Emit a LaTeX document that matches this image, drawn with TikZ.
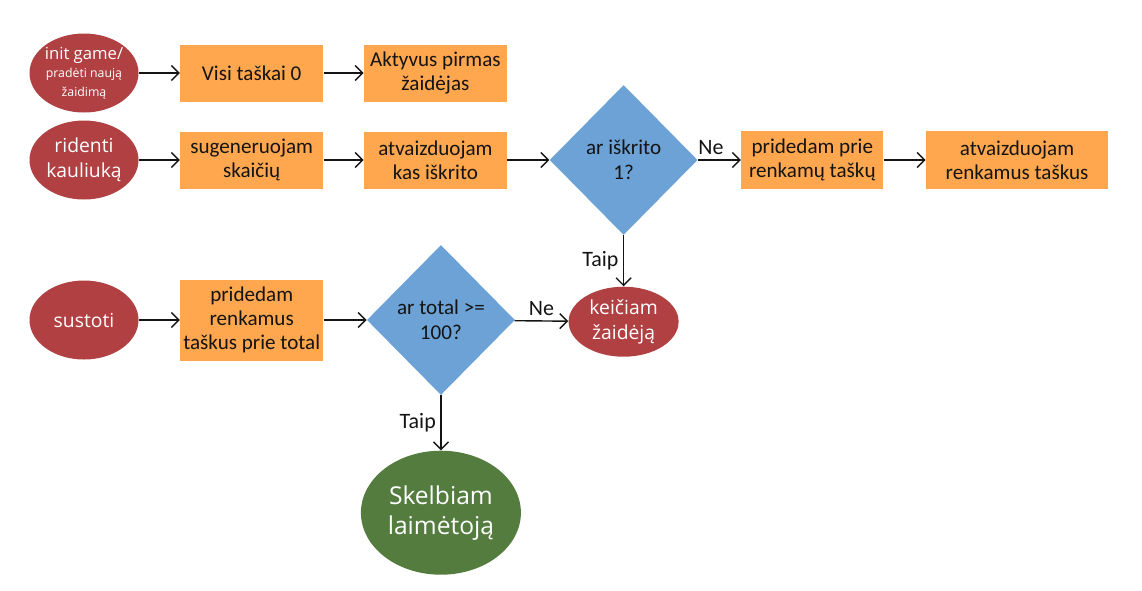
\documentclass[tikz,border=0pt]{standalone}
\usepackage{fontspec}
\setmainfont{Carlito}
\newfontfamily\ovalfont{Open Sans}
\usepackage{tikz}
\usetikzlibrary{arrows.meta,positioning,shapes.geometric}
\definecolor{ovalRed}{RGB}{176,64,66}
\definecolor{stepOrange}{RGB}{254,167,78}
\definecolor{askBlue}{RGB}{108,162,213}
\definecolor{winGreen}{RGB}{83,124,62}
\definecolor{mutedInk}{RGB}{20,20,20}
\tikzset{
  oval/.style={ellipse, fill=ovalRed, text=white, align=center, minimum width=2.18cm, minimum height=1.58cm, inner sep=0pt, font=\ovalfont\fontsize{11}{14.2}\selectfont},
  winoval/.style={oval, fill=winGreen, minimum width=3.2cm, minimum height=2.48cm, font=\ovalfont\fontsize{14}{17}\selectfont},
  stepbox/.style={rectangle, fill=stepOrange, text=mutedInk, align=center, minimum width=2.86cm, minimum height=1.14cm, inner sep=0pt, font=\fontsize{12}{13.8}\selectfont},
  askbox/.style={diamond, fill=askBlue, text=mutedInk, align=center, minimum width=2.96cm, minimum height=3cm, inner sep=0pt, font=\fontsize{12}{14}\selectfont},
  flow/.style={-{Straight Barb[length=1.5mm]}, line width=0.8pt, draw=mutedInk},
  tag/.style={text=mutedInk, inner sep=2.5pt, font=\fontsize{12.5}{14}\selectfont}
}
\begin{document}
\begin{tikzpicture}
        \useasboundingbox (0,0) rectangle (22.84,-11.8);
        % first row
        \node[oval, inner sep=-5pt, font=\ovalfont\fontsize{9.5}{10.5}\selectfont] (g1) at (1.68,-1.46) {init game/\\{\fontsize{7}{9.5}\selectfont pradėti naują}\\{\fontsize{7}{9.5}\selectfont žaidimą}};
        \node[stepbox, right=0.82cm of g1] (g2) {Visi taškai 0};
        \node[stepbox, right=0.8cm of g2] (g3) {Aktyvus pirmas\\žaidėjas};
        % second row
        \node[oval] (r1) at (1.68,-3.2) {ridenti\\kauliuką};
        \node[stepbox, right=0.82cm of r1] (r2) {sugeneruojam\\skaičių};
        \node[stepbox, right=0.8cm of r2] (r3) {atvaizduojam\\kas iškrito};
        \node[askbox, right=0.84cm of r3] (r4) {ar iškrito\\1?};
        \node[stepbox, right=0.86cm of r4, minimum width=2.84cm, minimum height=1.16cm] (r5) {pridedam prie\\renkamų taškų};
        \node[stepbox, right=0.84cm of r5, minimum width=3.64cm, minimum height=1.16cm] (r6) {atvaizduojam\\renkamus taškus};
        \node[oval, below=1.02cm of r4, minimum width=2.2cm, minimum height=1.4cm] (k1) {keičiam\\žaidėją};
        % third row
        \node[oval] (t1) at (1.68,-6.4) {sustoti};
        \node[stepbox, right=0.82cm of t1, minimum height=1.62cm] (t2) {pridedam\\renkamus\\taškus prie total};
        \node[askbox, right=0.86cm of t2] (t3) {ar total >=\\100?};
        \node[winoval, below=1.1cm of t3] (w1) {Skelbiam\\laimėtoją};
        \draw[flow] (g1) -- (g2);
        \draw[flow] (g2) -- (g3);
        \draw[flow] (r1) -- (r2);
        \draw[flow] (r2) -- (r3);
        \draw[flow] (r3) -- (r4);
        \draw[flow] (r4) -- node[tag, pos=0.3, above] {Ne} (r5);
        \draw[flow] (r5) -- (r6);
        \draw[flow] (r4) -- node[tag, left] {Taip} (k1);
        \draw[flow] (t1) -- (t2);
        \draw[flow] (t2) -- (t3);
        \draw[flow] (t3) -- node[tag, above] {Ne} (k1);
        \draw[flow] (t3) -- node[tag, left] {Taip} (w1);
      \end{tikzpicture}
\end{document}
